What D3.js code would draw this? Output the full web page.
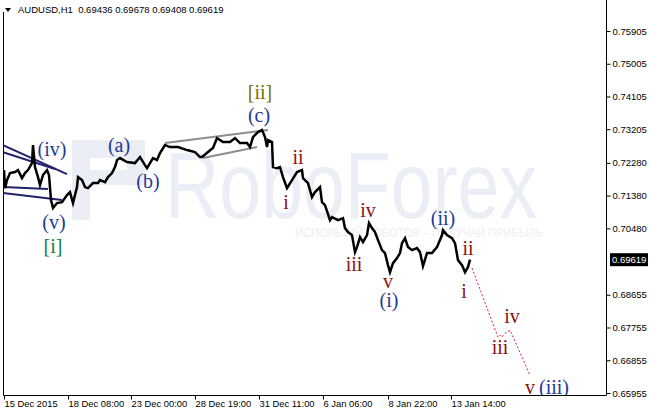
<!DOCTYPE html>
<html>
<head>
<meta charset="utf-8">
<script src="https://cdn.jsdelivr.net/npm/d3@7"></script>
<style>
  body { margin: 0; background: #fff; }
  svg text { font-family: "Liberation Sans", Arial, sans-serif; }
</style>
</head>
<body>
<div id="chart"></div>
<script>
// AUDUSD H1 - wave count chart

// hour index since the first bar, and price at that hour
var hours = [0, 1, 3, 6, 11, 14, 18, 21, 24, 28, 29, 31, 34, 36, 39, 43, 45, 47, 49, 53,
  58, 63, 66, 69, 73, 74, 78, 81, 84, 89, 94, 96, 101, 104, 108, 111, 113, 116, 123, 131,
  136, 141, 143, 146, 149, 153, 156, 161, 166, 174, 183, 191, 196, 198, 204, 209, 213, 219, 226, 231,
  236, 243, 246, 249, 254, 258, 261, 263, 264, 268, 269, 273, 276, 279, 283, 288, 293, 298, 299, 304,
  308, 311, 316, 318, 321, 326, 328, 334, 339, 341, 344, 348, 351, 353, 356, 359, 363, 365, 368, 371,
  374, 378, 381, 384, 386, 389, 393, 396, 398, 401, 404, 408, 413, 416, 419, 423, 428, 433, 438, 439,
  443, 448, 451, 454, 458, 461, 464, 466];
var prices = [0.72082, 0.71587, 0.71807, 0.72000, 0.72027, 0.72082, 0.71862, 0.72000, 0.72082, 0.72275,
  0.72770, 0.72165, 0.71890, 0.71670, 0.71945, 0.72082, 0.71945, 0.71257, 0.71037, 0.71175,
  0.71202, 0.71395, 0.71477, 0.71175, 0.71615, 0.71890, 0.71807, 0.71615, 0.71587, 0.71725,
  0.71725, 0.71807, 0.71752, 0.71890, 0.72000, 0.72165, 0.72357, 0.72412, 0.72302, 0.72275,
  0.72440, 0.72220, 0.72137, 0.72275, 0.72412, 0.72357, 0.72550, 0.72770, 0.72715, 0.72715,
  0.72632, 0.72577, 0.72440, 0.72440, 0.72577, 0.72687, 0.72962, 0.72852, 0.72852, 0.72962,
  0.72825, 0.72825, 0.72715, 0.72990, 0.73127, 0.73182, 0.72990, 0.72715, 0.72907, 0.72852,
  0.72165, 0.72137, 0.72165, 0.71890, 0.71587, 0.71807, 0.72027, 0.72082, 0.71862, 0.71725,
  0.71340, 0.71477, 0.71615, 0.71202, 0.71120, 0.70707, 0.70790, 0.70707, 0.70762, 0.70487,
  0.70377, 0.70295, 0.69827, 0.69965, 0.70240, 0.70102, 0.70295, 0.70625, 0.70487, 0.70377,
  0.70157, 0.69882, 0.69800, 0.69470, 0.69277, 0.69525, 0.69662, 0.69800, 0.70075, 0.70212,
  0.69965, 0.69882, 0.69937, 0.69827, 0.69442, 0.69800, 0.69800, 0.69965, 0.70295, 0.70432,
  0.70295, 0.70212, 0.70075, 0.69607, 0.69470, 0.69277, 0.69415, 0.69619];

// projected path of the count (dotted)
var projHours = [468, 494, 496, 498, 501, 506, 526];
var projPrices = [0.69387, 0.67490, 0.67545, 0.67490, 0.67600, 0.67682, 0.66445];

// channel of the (c) wave and triangle of wave (iv)
var channelUpper = [[161, 0.72825], [264, 0.73182]];
var channelLower = [[199, 0.72412], [253, 0.72715]];
var triangleLines = [
  [[-1, 0.72770], [63, 0.71972]],
  [[-1, 0.72577], [51, 0.72110]],
  [[-1, 0.71615], [44, 0.71560]],
  [[-1, 0.71450], [58, 0.71257]]
];

// wave labels
var waveText  = ['(iv)', '(v)', '[i]', '(a)', '(b)', '[ii]', '(c)', 'ii', 'i', 'iv', 'iii', 'v', '(i)', '(ii)', 'ii', 'i', 'iii', 'iv', 'v', '(iii)'];
var waveDeg   = ['minor', 'minor', 'inter', 'minor', 'minor', 'primary', 'minor', 'minute', 'minute', 'minute', 'minute', 'minute', 'minor', 'minor', 'minute', 'minute', 'minute', 'minute', 'minute', 'minor'];
var waveHour  = [48, 50, 49, 115, 144, 256, 255, 294, 282, 364, 350, 384, 385, 439, 464, 460, 496, 508, 526, 550];
var wavePrice = [0.72632, 0.70625, 0.69992, 0.72742, 0.71752, 0.74200, 0.73567, 0.72412, 0.71175, 0.70955,
  0.69497, 0.69030, 0.68507, 0.70762, 0.69937, 0.68755, 0.67215, 0.68067, 0.66115, 0.66115];

var priceTicks = [0.75905, 0.75005, 0.74105, 0.73205, 0.72280, 0.71380, 0.70480, 0.68655, 0.67755, 0.66855, 0.65955];
var dateTicks = [0, 64, 127, 191, 255, 319, 384, 447];
var dateLabels = ['15 Dec 2015', '18 Dec 08:00', '23 Dec 00:00', '28 Dec 19:00', '31 Dec 11:00', '6 Jan 06:00', '8 Jan 22:00', '13 Jan 14:00'];
var lastPrice = 0.69619;

var width = 649, height = 414;
var plotL = 3, plotR = 606, plotT = 0, plotB = 395;

var degColor = { minor: '#1f3a93', inter: '#12804a', primary: '#737300', minute: '#8b1212' };

var svg = d3.select('#chart').append('svg')
  .attr('width', width)
  .attr('height', height);

var x = d3.scaleLinear().domain([0, 602]).range([4, 606]);
var y = d3.scaleLinear().domain([0.65955, 0.75905]).range([393, 31]);

svg.append('defs').append('clipPath').attr('id', 'plot')
  .append('rect').attr('x', plotL).attr('y', plotT).attr('width', plotR - plotL).attr('height', plotB - plotT);

var plot = svg.append('g').attr('clip-path', 'url(#plot)');

// watermark
var wm = '#ebeff5';
plot.append('rect').attr('x', 72).attr('y', 140).attr('width', 18).attr('height', 80).attr('fill', wm);
plot.append('rect').attr('x', 90).attr('y', 140).attr('width', 55).attr('height', 18).attr('fill', wm);
plot.append('rect').attr('x', 127).attr('y', 140).attr('width', 18).attr('height', 45).attr('fill', wm);
plot.append('rect').attr('x', 90).attr('y', 170).attr('width', 40).attr('height', 15).attr('fill', wm);
plot.append('text')
  .attr('x', 165).attr('y', 218)
  .attr('textLength', 372).attr('lengthAdjust', 'spacingAndGlyphs')
  .style('font-size', '95px').attr('fill', wm)
  .text('RoboForex');
plot.append('text')
  .attr('x', 295).attr('y', 237)
  .attr('textLength', 248).attr('lengthAdjust', 'spacingAndGlyphs')
  .style('font-size', '13px').attr('fill', wm)
  .text('ИСПОЛЬЗУЙ РОБОТОВ – ПОЛУЧАЙ ПРИБЫЛЬ');

// triangle and channel lines
plot.selectAll('.tri').data(triangleLines).enter().append('line')
  .attr('x1', function(d) { return x(d[0][0]); })
  .attr('y1', function(d) { return y(d[0][1]); })
  .attr('x2', function(d) { return x(d[1][0]); })
  .attr('y2', function(d) { return y(d[1][1]); })
  .attr('stroke', '#22226e').attr('stroke-width', 2);

plot.selectAll('.chan').data([channelUpper, channelLower]).enter().append('line')
  .attr('x1', function(d) { return x(d[0][0]); })
  .attr('y1', function(d) { return y(d[0][1]); })
  .attr('x2', function(d) { return x(d[1][0]); })
  .attr('y2', function(d) { return y(d[1][1]); })
  .attr('stroke', '#8c8c8c').attr('stroke-width', 2);

// price line
var line = d3.line()
  .x(function(d, i) { return x(hours[i]); })
  .y(function(d) { return y(d); });

plot.append('path')
  .datum(prices)
  .attr('d', line)
  .attr('fill', 'none')
  .attr('stroke', '#000')
  .attr('stroke-width', 2.5)
  .attr('stroke-linejoin', 'miter');

// projection
var proj = d3.line()
  .x(function(d, i) { return x(projHours[i]); })
  .y(function(d) { return y(d); });

plot.append('path')
  .datum(projPrices)
  .attr('d', proj)
  .attr('fill', 'none')
  .attr('stroke', '#d0234a')
  .attr('stroke-width', 1)
  .attr('stroke-dasharray', '2,2');

// wave labels
plot.selectAll('.wave').data(waveText).enter().append('text')
  .attr('x', function(d, i) { return x(waveHour[i]); })
  .attr('y', function(d, i) { return y(wavePrice[i]); })
  .attr('text-anchor', 'middle')
  .attr('dy', '0.32em')
  .style('font-family', '"Liberation Serif", "Times New Roman", serif')
  .style('font-size', '20px')
  .attr('fill', function(d, i) { return degColor[waveDeg[i]]; })
  .text(function(d) { return d; });

// frame
svg.append('path')
  .attr('d', 'M' + (plotL + 0.5) + ',12V' + (plotB + 0.5) + 'H' + (plotR + 0.5) + 'V' + plotT)
  .attr('fill', 'none').attr('stroke', '#000');

// price axis
var yAxis = d3.axisRight(y)
  .tickValues(priceTicks)
  .tickSize(4)
  .tickPadding(2)
  .tickFormat(d3.format('.5f'));

var gy = svg.append('g').attr('transform', 'translate(' + (plotR + 0.5) + ',0)').call(yAxis);
gy.select('.domain').remove();
gy.selectAll('text').style('font-size', '9.5px').attr('fill', '#000');

// time axis
var xAxis = d3.axisBottom(x)
  .tickValues(dateTicks)
  .tickSize(4)
  .tickPadding(1)
  .tickFormat(function(d, i) { return dateLabels[i]; });

var gx = svg.append('g').attr('transform', 'translate(0,' + (plotB + 0.5) + ')').call(xAxis);
gx.select('.domain').remove();
gx.selectAll('text').style('font-size', '9.4px').attr('text-anchor', 'start').attr('dx', '0').attr('fill', '#000');

// last price marker
var lp = svg.append('g').attr('transform', 'translate(' + (plotR + 4) + ',' + y(lastPrice) + ')');
lp.append('rect').attr('x', 0).attr('y', -6.5).attr('width', 38).attr('height', 13).attr('fill', '#000');
lp.append('text').attr('x', 2).attr('dy', '0.35em').style('font-size', '9.5px').attr('fill', '#fff')
  .text(d3.format('.5f')(lastPrice));

// header
svg.append('path').attr('d', 'M5,8H11L8,12Z').attr('fill', '#000');
svg.append('text')
  .attr('x', 18).attr('y', 13)
  .attr('xml:space', 'preserve')
  .style('font-size', '9.5px')
  .style('white-space', 'pre')
  .attr('fill', '#000')
  .text('AUDUSD,H1  0.69436 0.69678 0.69408 0.69619');
</script>
</body>
</html>
